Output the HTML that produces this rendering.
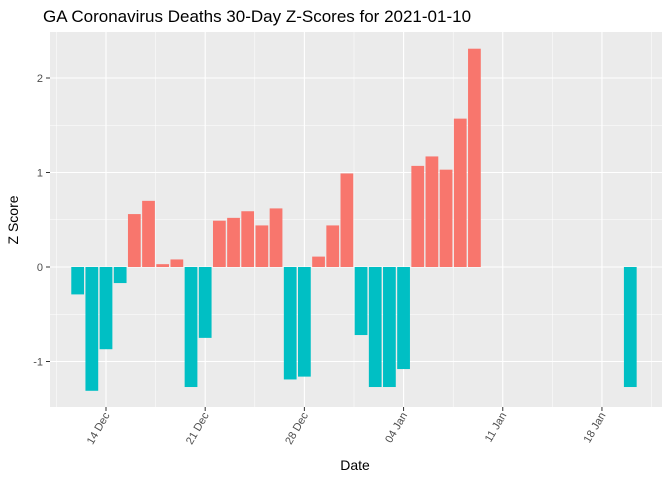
<!DOCTYPE html>
<html><head><meta charset="utf-8"><style>
body{margin:0;background:#fff;}
text{font-family:"Liberation Sans",sans-serif;}
</style></head><body>
<svg id="chart" width="672" height="480" xmlns="http://www.w3.org/2000/svg">
<text x="43" y="22" font-size="17" fill="#000">GA Coronavirus Deaths 30-Day Z-Scores for 2021-01-10</text>
<rect x="50" y="32" width="612" height="375" fill="#EBEBEB"/>
<g id="grid"></g><g id="bars"></g><g id="axes"></g>
<text x="355" y="470" font-size="14" text-anchor="middle" fill="#000">Date</text>
<text transform="translate(18,220) rotate(-90)" font-size="14" text-anchor="middle" fill="#000">Z Score</text>
</svg>
<script>
// day offsets relative to 14 Dec 2020
const dayOffsets = [-2,-1,0,1,2,3,4,5,6,7,8,9,10,11,12,13,14,15,16,17,18,19,20,21,22,23,24,25,26,37];
const zScores = [-0.29,-1.31,-0.87,-0.17,0.56,0.70,0.03,0.08,-1.27,-0.75,0.49,0.52,0.59,0.44,0.62,-1.19,-1.16,0.11,0.44,0.99,-0.72,-1.27,-1.27,-1.08,1.07,1.17,1.03,1.57,2.31,-1.27];
const xTickDays = [0,7,14,21,28,35];
const xTickLabels = ["14 Dec","21 Dec","28 Dec","04 Jan","11 Jan","18 Jan"];
const yTicks = [-1,0,1,2];
const NS="http://www.w3.org/2000/svg";
const X0=50,X1=662,Y0=32,Y1=407;
const xs=d=>106+d*14.17;
const ys=v=>267-v*94.5;
function mk(tag,attrs,parent){const e=document.createElementNS(NS,tag);for(const k in attrs)e.setAttribute(k,attrs[k]);document.getElementById(parent).appendChild(e);return e;}
// minor grid
for(let i=0;i<xTickDays.length+1;i++){const d=xTickDays[0]-3.5+i*7;const x=xs(d);if(x>X0&&x<X1){const l=mk('line',{x1:x,x2:x,y1:Y0,y2:Y1,stroke:'#fff','stroke-width':0.5},'grid');

}}
for(let v=-1.5;v<=2.5;v+=1){const y=ys(v);if(y>Y0&&y<Y1){const l=mk('line',{x1:X0,x2:X1,y1:y,y2:y,stroke:'#fff','stroke-width':0.5},'grid');

}}
xTickDays.forEach((d,i)=>{const x=xs(d);
const l=mk('line',{x1:x,x2:x,y1:Y0,y2:Y1,stroke:'#fff','stroke-width':1.1},'grid');


const t=mk('line',{x1:x,x2:x,y1:Y1,y2:Y1+4,stroke:'#333','stroke-width':1},'axes');


const tx=mk('text',{transform:`translate(${x+4},${Y1+8}) rotate(-60)`,'font-size':11,'text-anchor':'end',fill:'#4D4D4D'},'axes');
tx.textContent=xTickLabels[i];

});
yTicks.forEach(v=>{const y=ys(v);
const l=mk('line',{x1:X0,x2:X1,y1:y,y2:y,stroke:'#fff','stroke-width':1.1},'grid');


const t=mk('line',{x1:X0-4,x2:X0,y1:y,y2:y,stroke:'#333','stroke-width':1},'axes');


const tx=mk('text',{x:X0-7,y:y+4,'font-size':11,'text-anchor':'end',fill:'#4D4D4D'},'axes');
tx.textContent=String(v);

});
const bw=14.17*0.9;
dayOffsets.forEach((d,i)=>{const v=zScores[i];const y=Math.min(ys(v),ys(0));const h=Math.abs(ys(v)-ys(0));
const r=mk('rect',{x:xs(d)-bw/2,y:y,width:bw,height:h,fill:v>=0?'#F8766D':'#00BFC4'},'bars');

});
</script>
</body></html>
